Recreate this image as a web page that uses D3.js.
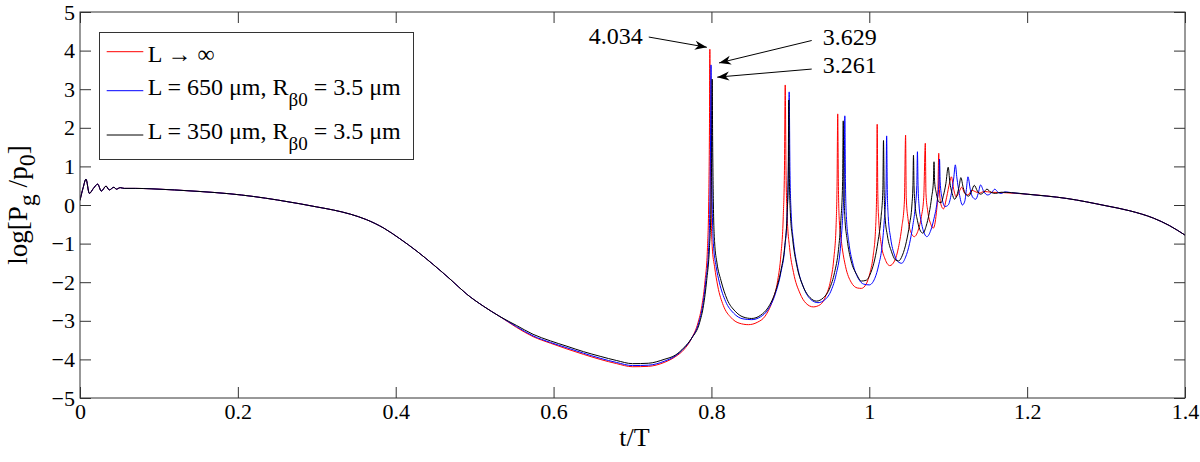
<!DOCTYPE html>
<html>
<head>
<meta charset="utf-8">
<script src="https://cdn.jsdelivr.net/npm/d3@7"></script>
<style>
  body { margin: 0; background: #fff; }
  text { font-family: 'Liberation Serif', 'Times New Roman', serif; fill: #000; }
</style>
</head>
<body>
<div class="container"></div>
<script>
const width = 1200;
const height = 462;
const margin = { top: 12, right: 15, bottom: 64, left: 80 };

// ---- dados ----
const xTicks = [0, 0.2, 0.4, 0.6, 0.8, 1, 1.2, 1.4];
const yTicks = [-5, -4, -3, -2, -1, 0, 1, 2, 3, 4, 5];

// trecho comum as tres curvas (t/T, log)
const baseCurve = [
  [0, 0.12], [0.004, 0.45], [0.0076, 0.67], [0.0118, 0.30], [0.017, 0.43], [0.0224, 0.54],
  [0.027, 0.36], [0.033, 0.49], [0.037, 0.39], [0.043, 0.46], [0.046, 0.41], [0.051, 0.45],
  [0.056, 0.43], [0.07, 0.43], [0.09, 0.42], [0.12, 0.39], [0.152, 0.35], [0.19, 0.29],
  [0.22, 0.22], [0.25, 0.13], [0.279, 0.03], [0.30, -0.05], [0.321, -0.13], [0.343, -0.24],
  [0.363, -0.38], [0.385, -0.6], [0.405, -0.87], [0.427, -1.2], [0.448, -1.55],
  [0.47, -1.94], [0.49, -2.31], [0.511, -2.62], [0.532, -2.89]
];

// final comum
const tailCurve = [
  [1.2, 0.28], [1.25, 0.17], [1.3, -0.02], [1.33, -0.15], [1.36, -0.34], [1.38, -0.53], [1.4, -0.78]
];

// L -> infinito
const seriesInf = [
  [0.553, -3.17], [0.574, -3.41], [0.596, -3.58], [0.617, -3.73], [0.638, -3.87], [0.659, -4.0],
  [0.68, -4.11], [0.70, -4.19], [0.72, -4.18], [0.74, -4.08], [0.755, -3.92], [0.765, -3.75],
  [0.775, -3.45], [0.783, -3.05], [0.788, -2.6], [0.792, -1.95], [0.795, -1.1], [0.7965, 0.0],
  [0.7975, 2.0], [0.798, 4.034], [0.7985, 2.0], [0.7995, 0.0], [0.801, -1.08], [0.804, -1.6],
  [0.808, -2.1], [0.815, -2.6], [0.825, -2.92], [0.835, -3.06], [0.847, -3.1], [0.858, -3.04],
  [0.868, -2.88], [0.877, -2.5], [0.884, -1.95], [0.888, -1.3], [0.891, -0.3], [0.8925, 0.9],
  [0.8935, 3.11], [0.8945, 0.9], [0.896, -0.3], [0.899, -1.1], [0.904, -1.75], [0.912, -2.28],
  [0.92, -2.55], [0.929, -2.64], [0.938, -2.58], [0.945, -2.35], [0.951, -1.95], [0.955, -1.4],
  [0.958, -0.5], [0.9592, 0.6], [0.96, 2.36], [0.9608, 0.6], [0.962, -0.4], [0.965, -1.0],
  [0.97, -1.6], [0.977, -2.0], [0.985, -2.15], [0.99, -2.16], [0.996, -2.05], [1.001, -1.75],
  [1.005, -1.3], [1.008, -0.6], [1.0093, 0.3], [1.010, 2.09], [1.0108, 0.3], [1.012, -0.4],
  [1.015, -1.0], [1.02, -1.4], [1.026, -1.57], [1.032, -1.45], [1.037, -1.1], [1.041, -0.6],
  [1.0445, 0.1], [1.046, 1.81], [1.0468, 0.2], [1.049, -0.35], [1.053, -0.72], [1.057, -0.82],
  [1.062, -0.65], [1.066, -0.3], [1.069, 0.2], [1.071, 1.60], [1.0718, 0.3], [1.074, -0.15],
  [1.078, -0.5], [1.081, -0.6], [1.085, -0.2], [1.087, 0.4], [1.088, 1.34], [1.0888, 0.4],
  [1.091, 0.0], [1.094, -0.1], [1.098, 0.2], [1.102, 0.6], [1.104, 0.73], [1.107, 0.4],
  [1.11, 0.21], [1.114, 0.35], [1.117, 0.46], [1.121, 0.3], [1.125, 0.26], [1.13, 0.38],
  [1.135, 0.34], [1.14, 0.31], [1.145, 0.35], [1.155, 0.33], [1.17, 0.32]
];

// L = 650 um
const series650 = [
  [0.553, -3.15], [0.574, -3.39], [0.596, -3.56], [0.617, -3.7], [0.638, -3.84], [0.659, -3.97],
  [0.68, -4.08], [0.70, -4.16], [0.72, -4.15], [0.74, -4.05], [0.755, -3.9], [0.765, -3.72],
  [0.775, -3.45], [0.784, -3.05], [0.789, -2.6], [0.793, -1.95], [0.7965, -1.1], [0.798, 0.0],
  [0.799, 2.0], [0.7995, 3.629], [0.8, 2.0], [0.801, 0.0], [0.8025, -1.0], [0.806, -1.6],
  [0.81, -2.0], [0.818, -2.5], [0.828, -2.8], [0.84, -2.95], [0.851, -2.97], [0.862, -2.9],
  [0.872, -2.7], [0.881, -2.3], [0.888, -1.75], [0.893, -1.1], [0.896, -0.2], [0.8975, 0.9],
  [0.8985, 2.93], [0.8995, 0.9], [0.901, -0.2], [0.904, -0.95], [0.909, -1.6], [0.917, -2.15],
  [0.926, -2.45], [0.935, -2.53], [0.944, -2.45], [0.952, -2.2], [0.958, -1.8], [0.963, -1.2],
  [0.966, -0.4], [0.9682, 0.6], [0.969, 2.31], [0.9698, 0.6], [0.971, -0.3], [0.974, -0.95],
  [0.979, -1.5], [0.986, -1.9], [0.993, -2.05], [1.000, -2.07], [1.007, -1.9], [1.012, -1.55],
  [1.016, -1.1], [1.019, -0.4], [1.0212, 0.4], [1.022, 1.79], [1.0228, 0.4], [1.024, -0.3],
  [1.027, -0.85], [1.032, -1.3], [1.037, -1.48], [1.041, -1.51], [1.046, -1.35], [1.051, -1.0],
  [1.055, -0.55], [1.058, -0.1], [1.0602, 0.5], [1.061, 1.38], [1.0618, 0.5], [1.063, 0.0],
  [1.066, -0.45], [1.07, -0.75], [1.073, -0.82], [1.078, -0.65], [1.082, -0.35], [1.086, 0.1],
  [1.0883, 0.6], [1.089, 1.19], [1.0898, 0.6], [1.092, 0.2], [1.096, -0.04], [1.1, 0.0],
  [1.104, 0.3], [1.107, 0.7], [1.109, 1.04], [1.111, 0.7], [1.114, 0.3], [1.118, 0.0],
  [1.121, 0.1], [1.123, 0.4], [1.125, 0.73], [1.128, 0.4], [1.131, 0.2], [1.135, 0.15],
  [1.138, 0.3], [1.141, 0.52], [1.145, 0.35], [1.15, 0.26], [1.155, 0.32], [1.159, 0.41],
  [1.163, 0.33], [1.167, 0.3], [1.172, 0.34], [1.18, 0.32]
];

// L = 350 um
const series350 = [
  [0.553, -3.12], [0.574, -3.35], [0.596, -3.52], [0.617, -3.66], [0.638, -3.8], [0.659, -3.92],
  [0.68, -4.03], [0.70, -4.11], [0.72, -4.1], [0.74, -4.0], [0.755, -3.88], [0.765, -3.7],
  [0.775, -3.45], [0.785, -3.05], [0.79, -2.6], [0.794, -1.95], [0.7975, -1.1], [0.7995, 0.0],
  [0.8005, 1.8], [0.801, 3.261], [0.8015, 1.8], [0.8025, 0.0], [0.804, -0.95], [0.807, -1.5],
  [0.812, -1.95], [0.82, -2.45], [0.83, -2.75], [0.84, -2.9], [0.851, -2.94], [0.862, -2.86],
  [0.872, -2.65], [0.881, -2.25], [0.888, -1.7], [0.893, -1.05], [0.896, -0.2], [0.8973, 0.8],
  [0.898, 2.72], [0.8987, 0.8], [0.9, -0.2], [0.903, -0.9], [0.908, -1.55], [0.916, -2.1],
  [0.925, -2.4], [0.933, -2.49], [0.942, -2.4], [0.95, -2.15], [0.956, -1.75], [0.961, -1.15],
  [0.964, -0.4], [0.9662, 0.6], [0.967, 2.18], [0.9678, 0.6], [0.969, -0.3], [0.972, -0.9],
  [0.977, -1.45], [0.984, -1.8], [0.99, -1.97], [0.996, -1.95], [1.002, -1.75], [1.007, -1.4],
  [1.011, -0.95], [1.015, -0.3], [1.0172, 0.4], [1.018, 1.67], [1.0188, 0.4], [1.02, -0.3],
  [1.023, -0.8], [1.028, -1.2], [1.033, -1.42], [1.037, -1.45], [1.042, -1.3], [1.047, -0.95],
  [1.051, -0.5], [1.054, 0.0], [1.0553, 0.5], [1.056, 1.29], [1.0567, 0.5], [1.058, 0.0],
  [1.061, -0.4], [1.065, -0.68], [1.068, -0.73], [1.072, -0.55], [1.076, -0.2], [1.079, 0.2],
  [1.0812, 0.6], [1.082, 1.12], [1.0828, 0.6], [1.085, 0.3], [1.088, 0.08], [1.091, 0.06],
  [1.094, 0.25], [1.097, 0.55], [1.1, 0.98], [1.102, 0.6], [1.105, 0.3], [1.108, 0.15],
  [1.111, 0.25], [1.114, 0.5], [1.116, 0.71], [1.119, 0.45], [1.122, 0.28], [1.126, 0.23],
  [1.13, 0.38], [1.133, 0.51], [1.137, 0.36], [1.141, 0.28], [1.145, 0.33], [1.149, 0.41],
  [1.154, 0.33], [1.16, 0.3], [1.167, 0.33], [1.18, 0.32]
];

// anotacoes dos picos
const annLabels = ['4.034', '3.629', '3.261'];
const annPeaks = [[0.798, 4.034], [0.7995, 3.629], [0.801, 3.261]];
const annTextPos = [[0.713, 4.17], [0.941, 4.15], [0.941, 3.41]];

const seriesList = [seriesInf, series650, series350];
const seriesColors = ['#ff0000', '#0000ff', '#000000'];
const fonte = "'Liberation Serif', 'Times New Roman', serif";

// ---- svg ----
const svg = d3.select('.container')
  .append('svg')
  .attr('width', width)
  .attr('height', height)
  .attr('font-family', fonte);

const x = d3.scaleLinear().domain([0, 1.4]).range([margin.left, width - margin.right]);
const y = d3.scaleLinear().domain([-5, 5]).range([height - margin.bottom, margin.top]);

svg.append('defs').append('clipPath')
  .attr('id', 'area')
  .append('rect')
  .attr('x', x(0)).attr('y', y(5))
  .attr('width', x(1.4) - x(0)).attr('height', y(-5) - y(5));

svg.select('defs').append('marker')
  .attr('id', 'seta')
  .attr('viewBox', '-13 -6 14 12')
  .attr('refX', 0).attr('refY', 0)
  .attr('markerWidth', 14).attr('markerHeight', 12)
  .attr('markerUnits', 'userSpaceOnUse')
  .attr('orient', 'auto')
  .append('path')
  .attr('d', 'M0,0 L-12,-4.5 L-8.5,0 L-12,4.5 Z')
  .attr('fill', '#000');

// curvas
const linha = d3.line()
  .x(d => x(d[0]))
  .y(d => y(d[1]))
  .curve(d3.curveMonotoneX);

const curvas = svg.append('g').attr('clip-path', 'url(#area)');
seriesList.forEach((s, i) => {
  curvas.append('path')
    .datum(baseCurve.concat(s, tailCurve))
    .attr('fill', 'none')
    .attr('stroke', seriesColors[i])
    .attr('stroke-width', 1)
    .attr('d', linha);
});

// eixos (ticks para dentro, como no matlab)
const tickLen = 11;
svg.append('g')
  .attr('transform', `translate(0, ${y(-5)})`)
  .call(d3.axisBottom(x).tickValues(xTicks).tickSize(-tickLen).tickPadding(5).tickFormat(d3.format('')));
svg.append('g')
  .attr('transform', `translate(0, ${y(5)})`)
  .call(d3.axisTop(x).tickValues(xTicks).tickSize(-tickLen).tickFormat(''));
svg.append('g')
  .attr('transform', `translate(${x(0)}, 0)`)
  .call(d3.axisLeft(y).tickValues(yTicks).tickSize(-tickLen).tickPadding(5));
svg.append('g')
  .attr('transform', `translate(${x(1.4)}, 0)`)
  .call(d3.axisRight(y).tickValues(yTicks).tickSize(-tickLen).tickFormat(''));

svg.selectAll('.domain').remove();
svg.selectAll('.tick line').attr('stroke', '#333');
svg.selectAll('g').filter(function () { return this.getAttribute('font-family'); })
  .attr('font-family', fonte);
svg.selectAll('.tick text')
  .attr('font-family', fonte)
  .attr('font-size', 22)
  .attr('fill', '#000');

// caixa do grafico
svg.append('rect')
  .attr('x', x(0)).attr('y', y(5))
  .attr('width', x(1.4) - x(0)).attr('height', y(-5) - y(5))
  .attr('fill', 'none')
  .attr('stroke', '#333')
  .attr('stroke-width', 1);

// titulos dos eixos
svg.append('text')
  .attr('x', x(0.7) + 2)
  .attr('y', 446)
  .attr('text-anchor', 'middle')
  .attr('font-size', 26)
  .text('t/T');

const rotulo = svg.append('text')
  .attr('transform', `translate(27, ${y(0)}) rotate(-90)`)
  .attr('text-anchor', 'middle')
  .attr('font-size', 27);
rotulo.append('tspan').text('log[P');
rotulo.append('tspan').attr('dy', 8).attr('font-size', 24).text('g');
rotulo.append('tspan').attr('dy', -8).text(' /p');
rotulo.append('tspan').attr('dy', 8).attr('font-size', 24).text('0');
rotulo.append('tspan').attr('dy', -8).text(']');

// anotacoes
const anot = svg.append('g');
annLabels.forEach((lab, i) => {
  const tx = x(annTextPos[i][0]);
  const ty = y(annTextPos[i][1]);
  const left = i === 0;
  anot.append('text')
    .attr('x', tx)
    .attr('y', ty)
    .attr('text-anchor', left ? 'end' : 'start')
    .attr('font-size', 24)
    .text(lab);
  const x1 = left ? tx + 6 : tx - 11;
  const y1 = left ? ty - 7 : ty - 4.3;
  const x2 = x(annPeaks[i][0]) + (left ? -3 : (i === 1 ? 8 : 5));
  const y2 = y(annPeaks[i][1]) - 2;
  anot.append('line')
    .attr('x1', x1).attr('y1', y1)
    .attr('x2', x2).attr('y2', y2)
    .attr('stroke', '#000')
    .attr('stroke-width', 1)
    .attr('marker-end', 'url(#seta)');
});

// legenda
const legenda = svg.append('g').attr('class', 'legenda');
legenda.append('rect')
  .attr('x', 99.5).attr('y', 32.5)
  .attr('width', 314).attr('height', 127)
  .attr('fill', '#fff')
  .attr('stroke', '#333')
  .attr('stroke-width', 1);

const legLinhaY = [51.7, 90.7, 135];
const legTextoY = [61.7, 95, 139.3];
const legTextos = [
  ['L \u2192 \u221E'],
  ['L = 650 \u03BCm, R', '\u03B20', ' = 3.5 \u03BCm'],
  ['L = 350 \u03BCm, R', '\u03B20', ' = 3.5 \u03BCm']
];
legTextos.forEach((partes, i) => {
  legenda.append('line')
    .attr('x1', 106.7).attr('x2', 143.3)
    .attr('y1', legLinhaY[i]).attr('y2', legLinhaY[i])
    .attr('stroke', seriesColors[i])
    .attr('stroke-width', 1);
  const t = legenda.append('text')
    .attr('x', 147.7)
    .attr('y', legTextoY[i])
    .attr('font-size', 24);
  t.append('tspan').text(partes[0]);
  if (partes.length > 1) {
    t.append('tspan').attr('dy', 11).attr('font-size', 19).text(partes[1]);
    t.append('tspan').attr('dy', -11).text(partes[2]);
  }
});
</script>
</body>
</html>
